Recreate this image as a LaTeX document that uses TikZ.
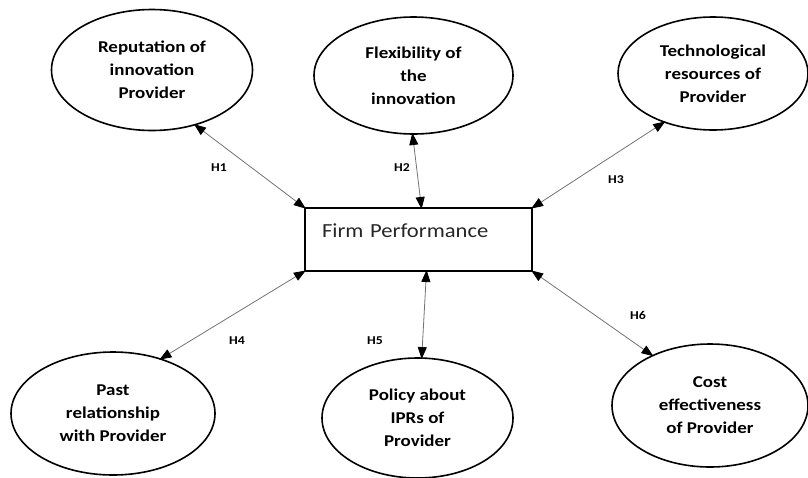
\documentclass[tikz,border=0pt]{standalone}
\usepackage{fontspec}
\setmainfont{Carlito}
\newfontfamily\lbl[FakeStretch=1.15]{Carlito}
\newfontfamily\fpf[FakeStretch=1.13]{Carlito}
\usetikzlibrary{shapes.geometric,arrows.meta}
\begin{document}
\begin{tikzpicture}[x=1pt,y=-1pt,
  factor/.style={ellipse, draw, line width=1.6pt, inner sep=0pt, outer sep=0pt, align=center,
    font=\lbl\bfseries\fontsize{16.5}{23}\selectfont},
  hyp/.style={font=\lbl\bfseries\fontsize{12}{14}\selectfont, inner sep=0pt},
  link/.style={{Triangle[length=12pt,width=9pt,color=black]}-{Triangle[length=12pt,width=9pt,color=black]},
    draw=black!55, line width=0.8pt, shorten <=-1pt, shorten >=-1pt},
]
\useasboundingbox (0,0) rectangle (808,477);

\node[factor, minimum width=201pt, minimum height=121pt] (e1) at (152,70) {Reputation of\\innovation\\Provider};
\node[factor, minimum width=199pt, minimum height=117pt] (e2) at (413.5,75.5) {Flexibility of\\the\\innovation};
\node[factor, minimum width=190pt, minimum height=113pt] (e3) at (713,73.5) {Technological\\resources of\\Provider};
\node[factor, minimum width=204pt, minimum height=123pt] (e4) at (113,413.5) {Past\\relationship\\with Provider};
\node[factor, minimum width=191pt, minimum height=120pt] (e5) at (417.5,418) {Policy about\\IPRs of\\Provider};
\node[factor, minimum width=196pt, minimum height=123pt] (e6) at (710,405.5) {Cost\\effectiveness\\of Provider};

\node[draw, line width=1.6pt, minimum width=227pt, minimum height=63pt, anchor=north west,
  outer sep=0pt, inner xsep=17pt, text width=193pt, align=left, text depth=17pt,
  font=\fpf\fontsize{20}{24}\selectfont, text=black!85] (R) at (305,208) {Firm Performance};

\draw[link] (e1.-52.8) -- (R.north west);
\draw[link] (e2.-91.5) -- ([xshift=3pt]R.north);
\draw[link] (e3.-135.3) -- (R.north east);
\draw[link] (e4.49.6) -- (R.south west);
\draw[link] (e5.86) -- ([xshift=8pt]R.south);
\draw[link] (e6.139) -- (R.south east);

\node[hyp] (h1) at (219,168) {H1};
\node[hyp] (h2) at (402,168) {H2};
\node[hyp] (h3) at (616,180) {H3};
\node[hyp] (h4) at (237,341) {H4};
\node[hyp] (h5) at (375,341) {H5};
\node[hyp] (h6) at (638,315) {H6};
\end{tikzpicture}
\end{document}
